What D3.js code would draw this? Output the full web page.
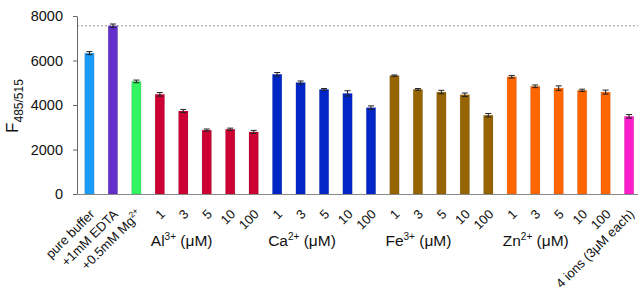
<!DOCTYPE html>
<html>
<head>
<meta charset="utf-8">
<script src="https://cdn.jsdelivr.net/npm/d3@7"></script>
<style>
  body { margin: 0; background: #fff; }
  svg text { font-family: "Liberation Sans", Arial, Helvetica, sans-serif; fill: #111; }
</style>
</head>
<body>
<div id="chart"></div>
<script>
"use strict";

// tick labels under each bar (sup = superscript part)
var tickLabels = [
    { text: "pure buffer" }, { text: "+1mM EDTA" }, { text: "+0.5mM Mg", sup: "2+" },
    { text: "1" }, { text: "3" }, { text: "5" }, { text: "10" }, { text: "100" },
    { text: "1" }, { text: "3" }, { text: "5" }, { text: "10" }, { text: "100" },
    { text: "1" }, { text: "3" }, { text: "5" }, { text: "10" }, { text: "100" },
    { text: "1" }, { text: "3" }, { text: "5" }, { text: "10" }, { text: "100" },
    { text: "4 ions (3\u03bcM each)" }
];
var values = [6330, 7560, 5060,
    4480, 3730, 2870, 2910, 2790,
    5380, 5010, 4700, 4520, 3880,
    5320, 4700, 4580, 4460, 3540,
    5270, 4840, 4760, 4660, 4580,
    3490];
var errors = [70, 80, 60,
    80, 70, 50, 50, 70,
    80, 70, 40, 120, 80,
    30, 40, 80, 80, 80,
    60, 60, 100, 50, 90,
    80];
var barColors = ["#1b9cf9", "#6430cc", "#30f460",
    "#cc0033", "#cc0033", "#cc0033", "#cc0033", "#cc0033",
    "#0026c8", "#0026c8", "#0026c8", "#0026c8", "#0026c8",
    "#966400", "#966400", "#966400", "#966400", "#966400",
    "#ff6600", "#ff6600", "#ff6600", "#ff6600", "#ff6600",
    "#ff1ccc"];
// ion groups: element, charge, index of first bar
var groups = [
    { ion: "Al", charge: "3+", first: 3 },
    { ion: "Ca", charge: "2+", first: 8 },
    { ion: "Fe", charge: "3+", first: 13 },
    { ion: "Zn", charge: "2+", first: 18 }
];
var yTicks = [0, 2000, 4000, 6000, 8000];
var referenceLevel = 7560;

var margin = { top: 16, left: 77 };
var fullWidth = 638, fullHeight = 291;
var height = 178;

var svg = d3.select("#chart").append("svg")
    .attr("width", fullWidth)
    .attr("height", fullHeight);

var chartGroup = svg.append("g")
    .attr("transform", "translate(" + margin.left + ", " + margin.top + ")");

var x = d3.scaleBand()
    .domain(d3.range(values.length))
    .range([0, 564.5])
    .paddingInner(0.6)
    .paddingOuter(0.33);
var y = d3.scaleLinear()
    .domain([0, 8000])
    .range([height, 0]);

// dotted reference line (EDTA level)
chartGroup.append("line")
    .attr("x1", 0)
    .attr("x2", fullWidth - margin.left)
    .attr("y1", y(referenceLevel))
    .attr("y2", y(referenceLevel))
    .attr("stroke", "#9a9a9a")
    .attr("stroke-width", 1)
    .attr("stroke-dasharray", "2,2");

// bars
chartGroup.selectAll("rect.bar")
  .data(values)
  .enter()
  .append("rect")
    .classed("bar", true)
    .attr("x", function (d, i) { return x(i); })
    .attr("y", function (d) { return y(d); })
    .attr("width", x.bandwidth())
    .attr("height", function (d) { return height - y(d); })
    .attr("fill", function (d, i) { return barColors[i]; })
    .attr("stroke", "rgba(0,0,0,0.12)")
    .attr("stroke-width", 0.8);

// error bars
var err = chartGroup.selectAll("g.err")
  .data(values)
  .enter()
  .append("g")
    .classed("err", true)
    .attr("stroke", "#222")
    .attr("stroke-width", 1);
err.append("line")
    .attr("x1", function (d, i) { return x(i) + x.bandwidth() / 2; })
    .attr("x2", function (d, i) { return x(i) + x.bandwidth() / 2; })
    .attr("y1", function (d, i) { return y(d - errors[i]); })
    .attr("y2", function (d, i) { return y(d + errors[i]); });
[-1, 1].forEach(function (s) {
    err.append("line")
        .attr("x1", function (d, i) { return x(i) + x.bandwidth() / 2 - 3; })
        .attr("x2", function (d, i) { return x(i) + x.bandwidth() / 2 + 3; })
        .attr("y1", function (d, i) { return y(d + s * errors[i]); })
        .attr("y2", function (d, i) { return y(d + s * errors[i]); });
});

// y axis
var yAxis = d3.axisLeft(y).tickValues(yTicks).tickFormat(d3.format("d"))
    .tickSize(4).tickPadding(10).tickSizeOuter(0);
var yG = chartGroup.append("g").call(yAxis);
yG.select(".domain").attr("stroke", "#666");
yG.selectAll(".tick line").attr("stroke", "#666");
yG.selectAll("text").style("font-size", "14.5px").style("fill", "#111");

// x axis line
chartGroup.append("line")
    .attr("x1", 0)
    .attr("x2", fullWidth - margin.left)
    .attr("y1", height + 0.5)
    .attr("y2", height + 0.5)
    .attr("stroke", "#888");

// rotated tick labels
var lab = chartGroup.selectAll("text.tlabel")
  .data(tickLabels)
  .enter()
  .append("text")
    .classed("tlabel", true)
    .attr("text-anchor", "end")
    .style("font-size", "13px")
    .attr("transform", function (d, i) {
        return "translate(" + (x(i) + x.bandwidth() / 2 + 6) + ", " + (height + 21) + ") rotate(-45)";
    });
lab.append("tspan").text(function (d) { return d.text; });
lab.filter(function (d) { return d.sup; })
  .append("tspan")
    .attr("dy", "-5")
    .style("font-size", "8.5px")
    .text(function (d) { return d.sup; });

// group labels
var gl = chartGroup.selectAll("text.glabel")
  .data(groups)
  .enter()
  .append("text")
    .classed("glabel", true)
    .attr("x", function (d) { return x(d.first) + x.bandwidth() / 2 - 9; })
    .attr("y", 230)
    .style("font-size", "15.5px");
gl.append("tspan").text(function (d) { return d.ion; });
gl.append("tspan")
    .attr("dy", "-6")
    .style("font-size", "10px")
    .text(function (d) { return d.charge; });
gl.append("tspan")
    .attr("dy", "6")
    .text(" (\u03bcM)");

// y axis title
var yt = svg.append("text")
    .attr("transform", "translate(18, 106) rotate(-90)")
    .attr("text-anchor", "middle");
yt.append("tspan").style("font-size", "17px").text("F");
yt.append("tspan").attr("dy", "5").style("font-size", "12px").text("485/515");
</script>
</body>
</html>
